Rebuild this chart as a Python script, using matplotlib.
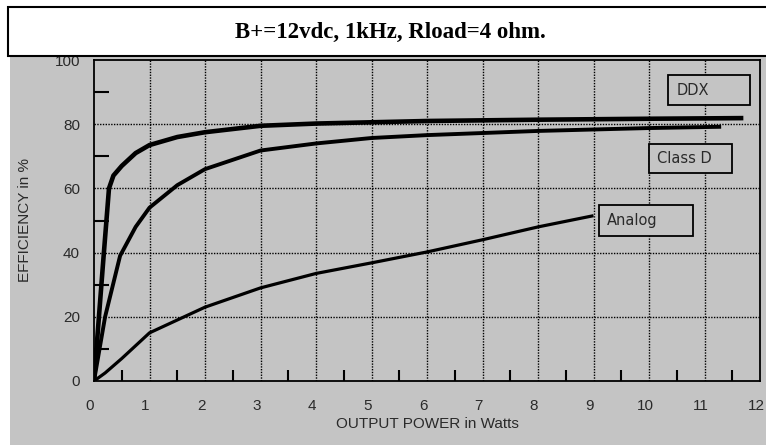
import matplotlib
matplotlib.use("Agg")
import matplotlib.pyplot as plt
import matplotlib.transforms as mtransforms
from matplotlib.patches import Rectangle
from matplotlib.ticker import MultipleLocator

# ── Data ──────────────────────────────────────────────────────────────
ddx_x = [0, 0.16, 0.27, 0.35, 0.5, 0.75, 1, 1.5, 2, 3, 4, 6, 8, 10, 11.7]
ddx_y = [0, 36, 60, 64, 67, 71, 73.5, 76, 77.5, 79.5, 80.2, 81, 81.4, 81.7, 81.9]

classd_x = [0, 0.2, 0.47, 0.75, 1, 1.5, 2, 3, 4, 5, 6, 8, 10, 11.3]
classd_y = [0, 20, 39, 48, 54, 61, 66, 71.8, 74, 75.7, 76.6, 77.9, 78.8, 79.2]

analog_x = [0, 0.2, 0.5, 1, 2, 3, 4, 5, 6, 7, 8, 9]
analog_y = [0, 2.5, 7, 15, 23, 29, 33.5, 36.8, 40.2, 44, 48, 51.5]

# label boxes: (text, x0, y0, x1, y1) in data units
label_boxes = [
    ("DDX", 10.34, 86.0, 11.82, 95.3),
    ("Class D", 10.0, 64.8, 11.5, 73.8),
    ("Analog", 9.1, 45.2, 10.8, 54.8),
]

TITLE = "B+=12vdc, 1kHz, Rload=4 ohm."
BG = "#c4c4c4"
INK = "#2a2a2a"
SANS = ["Liberation Sans", "DejaVu Sans"]

fig = plt.figure(figsize=(7.66, 4.45), dpi=100)
fig.patch.set_facecolor("white")

# gray panel behind the plot
fig.add_artist(Rectangle((10 / 766, 0), 1, 1 - 56 / 445, transform=fig.transFigure,
                         facecolor=BG, edgecolor="none", zorder=-10))

ax = fig.add_axes([94 / 766, 1 - 381 / 445, (760 - 94) / 766, (381 - 60) / 445])
ax.set_facecolor(BG)

ax.plot(ddx_x, ddx_y, color="black", lw=3.3, solid_capstyle="butt", zorder=3)
ax.plot(classd_x, classd_y, color="black", lw=2.8, solid_capstyle="butt", zorder=3)
ax.plot(analog_x, analog_y, color="black", lw=2.3, solid_capstyle="butt", zorder=3)

for text, x0, y0, x1, y1 in label_boxes:
    ax.add_patch(Rectangle((x0, y0), x1 - x0, y1 - y0, facecolor=BG,
                           edgecolor="black", lw=1.3, zorder=4))
    ax.text(x0 + 0.15, (y0 + y1) / 2, text, ha="left", va="center",
            fontsize=10.5, family=["DejaVu Sans"], color=INK, zorder=5)

ax.set_xlim(0, 12)
ax.set_ylim(0, 100)
ax.set_xticks(range(0, 13))
ax.set_yticks(range(0, 101, 20))
ax.xaxis.set_minor_locator(MultipleLocator(0.5))
ax.yaxis.set_minor_locator(MultipleLocator(10))
ax.tick_params(which="major", length=0, labelsize=11, labelcolor=INK)
ax.tick_params(axis="x", which="major", pad=13)
ax.tick_params(axis="y", which="major", pad=10)
ax.tick_params(which="minor", direction="in", length=8, width=1.5, color="black")
ax.tick_params(axis="y", which="minor", length=11)
shift = mtransforms.ScaledTranslation(-4 / 100, 0, fig.dpi_scale_trans)
for lab in ax.get_xticklabels():
    lab.set_family(SANS)
    lab.set_transform(lab.get_transform() + shift)
for lab in ax.get_yticklabels():
    lab.set_family(SANS)

for v in range(1, 12):
    ax.axvline(v, color="black", lw=1, ls=(0, (1, 1)), zorder=1)
for v in range(20, 100, 20):
    ax.axhline(v, color="black", lw=1, ls=(0, (1, 1)), zorder=1)

for s in ax.spines.values():
    s.set_linewidth(1.3)

ax.set_xlabel("OUTPUT POWER in Watts", fontsize=11, family=SANS, color=INK, labelpad=3)
ax.set_ylabel("EFFICIENCY in %", fontsize=11, family=SANS, color=INK, labelpad=16)

# title box on top (covers the top of the "100" label, as in the original)
fig.add_artist(Rectangle((8 / 766, 1 - 56 / 445), 1, (56 - 7) / 445, transform=fig.transFigure,
                         facecolor="white", edgecolor="black", lw=1.5, zorder=10))
fig.text(390 / 766, 1 - 32 / 445, TITLE, ha="center", va="center", fontsize=16.5,
         fontweight="bold", family=["Liberation Serif", "DejaVu Serif"], zorder=11)

fig.savefig("out.png", dpi=100, facecolor=fig.get_facecolor())
